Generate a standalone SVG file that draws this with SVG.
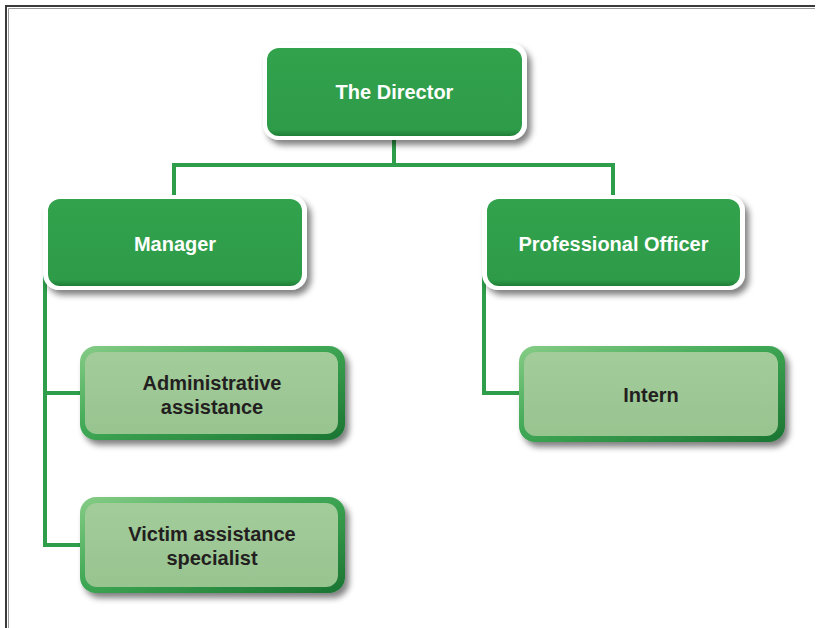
<svg xmlns="http://www.w3.org/2000/svg" width="816" height="628" viewBox="0 0 816 628">
  <defs>
    <filter id="shadow" x="-10%" y="-10%" width="130%" height="140%">
      <feGaussianBlur in="SourceAlpha" stdDeviation="3"/>
      <feOffset dx="4" dy="5" result="blur"/>
      <feComponentTransfer><feFuncA type="linear" slope="0.5"/></feComponentTransfer>
      <feMerge><feMergeNode/><feMergeNode in="SourceGraphic"/></feMerge>
    </filter>
    <linearGradient id="darkFill" x1="0" y1="0" x2="0" y2="1">
      <stop offset="0" stop-color="#33a24d"/>
      <stop offset="0.93" stop-color="#2d9b48"/>
      <stop offset="1" stop-color="#1f7d37"/>
    </linearGradient>
    <linearGradient id="rimGrad" x1="0" y1="0" x2="1" y2="1">
      <stop offset="0" stop-color="#86cc86"/>
      <stop offset="0.45" stop-color="#3fa855"/>
      <stop offset="1" stop-color="#1b7431"/>
    </linearGradient>
    <linearGradient id="lightFill" x1="0" y1="0" x2="0" y2="1">
      <stop offset="0" stop-color="#a3cc9b"/>
      <stop offset="1" stop-color="#98c490"/>
    </linearGradient>
  </defs>
  <style>
    .frame { fill: none; stroke: #3a3a3a; stroke-width: 2; }
    .frame2 { fill: none; stroke: #9a9a9a; stroke-width: 1; }
    .link { fill: none; stroke: #2e9e4a; stroke-width: 4; }
    .outerDark { fill: #ffffff; filter: url(#shadow); }
    .innerDark { fill: url(#darkFill); }
    .outerLight { fill: url(#rimGrad); filter: url(#shadow); }
    .innerLight { fill: url(#lightFill); }
    .tDark { font-family: "Liberation Sans", Arial, sans-serif; font-weight: bold; font-size: 20px; fill: #ffffff; text-anchor: middle; }
    .tLight { font-family: "Liberation Sans", Arial, sans-serif; font-weight: bold; font-size: 20px; fill: #231f20; text-anchor: middle; }
  </style>

  <rect width="816" height="628" fill="#ffffff"/>
  <!-- page frame -->
  <path class="frame" d="M6 628 V6 H815"/>
  <path class="frame2" d="M8.5 628 V8.5 H815"/>

  <!-- connectors -->
  <g id="connectors">
    <path class="link" d="M394 130 V165"/>
    <path class="link" d="M174 165 H613"/>
    <path class="link" d="M174 163 V205"/>
    <path class="link" d="M613 163 V205"/>
    <path class="link" d="M45 240 V547"/>
    <path class="link" d="M43 393 H86"/>
    <path class="link" d="M43 545 H86"/>
    <path class="link" d="M484 240 V393 H523"/>
  </g>

  <g id="director">
    <rect class="outerDark" x="263" y="43" width="264" height="97" rx="16"/>
    <rect class="innerDark" x="267" y="48" width="255" height="88" rx="12"/>
    <text class="tDark" x="394.5" y="99">The Director</text>
  </g>

  <g id="manager">
    <rect class="outerDark" x="43" y="195" width="264" height="95" rx="16"/>
    <rect class="innerDark" x="48" y="199" width="254" height="87" rx="12"/>
    <text class="tDark" x="175" y="251">Manager</text>
  </g>

  <g id="professional-officer">
    <rect class="outerDark" x="482" y="195" width="263" height="95" rx="16"/>
    <rect class="innerDark" x="487" y="199" width="253" height="87" rx="12"/>
    <text class="tDark" x="613.5" y="251">Professional Officer</text>
  </g>

  <g id="admin-assistance">
    <rect class="outerLight" x="80" y="346" width="265" height="94" rx="16"/>
    <rect class="innerLight" x="85" y="352" width="253" height="82" rx="12"/>
    <text class="tLight" x="212" y="390">Administrative</text>
    <text class="tLight" x="212" y="414">assistance</text>
  </g>

  <g id="victim-specialist">
    <rect class="outerLight" x="80" y="497" width="265" height="96" rx="16"/>
    <rect class="innerLight" x="85" y="503" width="253" height="84" rx="12"/>
    <text class="tLight" x="212" y="541">Victim assistance</text>
    <text class="tLight" x="212" y="565">specialist</text>
  </g>

  <g id="intern">
    <rect class="outerLight" x="519" y="346" width="266" height="96" rx="16"/>
    <rect class="innerLight" x="524" y="352" width="254" height="84" rx="12"/>
    <text class="tLight" x="651" y="402">Intern</text>
  </g>
</svg>
